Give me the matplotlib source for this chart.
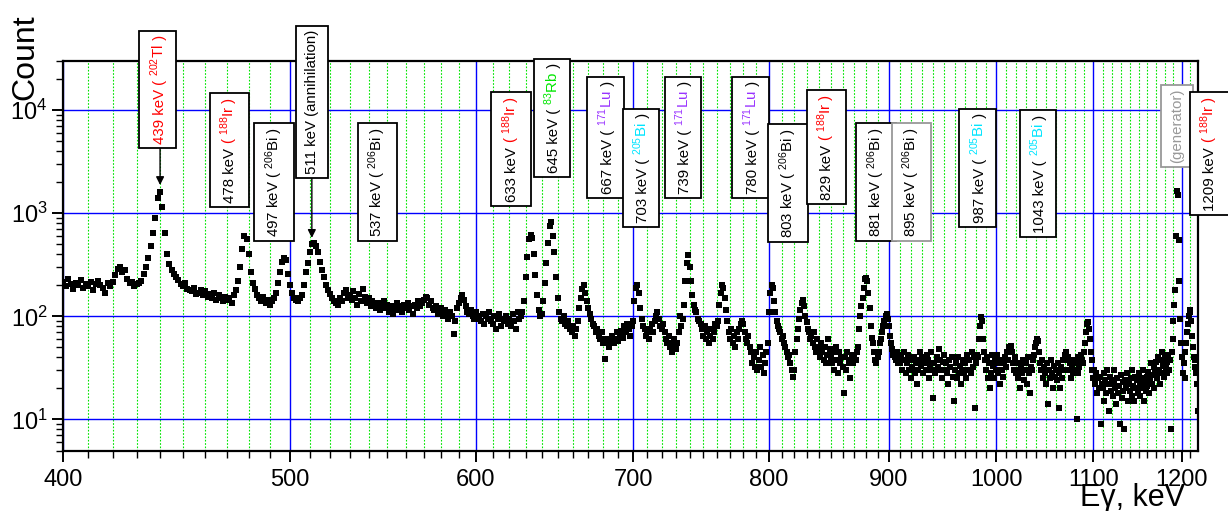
import matplotlib
matplotlib.use('Agg')
import matplotlib.pyplot as plt
import numpy as np
from matplotlib.patches import Rectangle
from matplotlib.ticker import FixedLocator, FuncFormatter, LogLocator, NullFormatter
from matplotlib.transforms import Bbox

plt.rcParams['font.family'] = ['Liberation Sans', 'DejaVu Sans']
plt.rcParams['mathtext.fontset'] = 'custom'
plt.rcParams['mathtext.rm'] = 'Liberation Sans'
plt.rcParams['mathtext.it'] = 'Liberation Sans:italic'
plt.rcParams['mathtext.bf'] = 'Liberation Sans:bold'
plt.rcParams['mathtext.default'] = 'rm'

# spectrum, 1 keV per channel, 400 .. 1219 keV
energy = np.arange(400, 1220)
counts = [
    215, 195, 230, 205, 185, 210, 200, 225, 190, 205,
    195, 215, 180, 205, 220, 200, 190, 170, 210, 195,
    215, 250, 290, 300, 270, 280, 230, 210, 215, 195,
    205, 210, 220, 260, 300, 370, 480, 640, 900, 1400,
    1600, 1150, 650, 400, 320, 280, 260, 240, 225, 205,
    195, 210, 185, 180, 175, 190, 165, 170, 180, 160,
    175, 155, 165, 150, 170, 145, 160, 150, 140, 155,
    145, 150, 135, 160, 180, 220, 300, 450, 600, 560,
    400, 270, 210, 185, 160, 150, 140, 155, 135, 145,
    130, 140, 150, 170, 210, 270, 340, 370, 350, 260,
    200, 170, 150, 145, 140, 150, 160, 200, 270, 330,
    420, 500, 520, 480, 420, 340, 280, 240, 200, 180,
    165, 150, 140, 135, 130, 150, 140, 170, 180, 150,
    160, 145, 175, 150, 130, 165, 140, 185, 155, 135,
    150, 125, 140, 130, 120, 135, 115, 125, 140, 120,
    130, 110, 125, 105, 120, 135, 115, 125, 110, 130,
    120, 135, 115, 125, 105, 130, 120, 140, 125, 135,
    145, 155, 150, 130, 140, 120, 115, 125, 105, 110,
    120, 100, 115, 105, 95, 110, 100, 68, 90, 120,
    135, 150, 160, 145, 125, 110, 105, 115, 100, 95,
    110, 95, 100, 90, 105, 85, 100, 95, 110, 90,
    85, 100, 75, 95, 105, 80, 95, 90, 100, 85,
    95, 80, 105, 90, 75, 110, 95, 100, 110, 140,
    240, 380, 560, 620, 580, 400, 250, 160, 115, 100,
    105, 140, 210, 330, 520, 750, 820, 600, 420, 240,
    150, 110, 95, 90, 100, 85, 80, 90, 75, 70,
    80, 65, 75, 90, 120, 150, 185, 200, 170, 140,
    120, 105, 95, 85, 80, 70, 75, 65, 60, 70,
    55, 39, 60, 55, 50, 58, 65, 55, 60, 70,
    58, 65, 72, 62, 80, 70, 85, 75, 65, 80,
    90, 140, 190, 200, 170, 120, 95, 80, 75, 65,
    70, 60, 75, 85, 70, 90, 100, 110, 95, 80,
    75, 85, 70, 60, 55, 65, 50, 45, 55, 60,
    48, 55, 70, 100, 80, 95, 130, 220, 330, 390,
    300, 220, 160, 130, 115, 110, 95, 90, 85, 75,
    65, 80, 60, 70, 55, 65, 75, 60, 70, 85,
    80, 90, 130, 170, 200, 190, 150, 115, 90, 70,
    60, 75, 55, 65, 50, 70, 60, 75, 85, 90,
    85, 70, 60, 55, 65, 50, 45, 35, 40, 32,
    45, 30, 38, 50, 32, 42, 28, 35, 45, 55,
    110, 170, 200, 190, 140, 110, 90, 80, 75, 70,
    60, 65, 55, 50, 45, 40, 42, 35, 30, 26,
    30, 45, 60, 75, 95, 115, 135, 145, 125, 100,
    88, 75, 70, 60, 65, 55, 70, 50, 45, 60,
    50, 40, 55, 45, 38, 50, 35, 42, 60, 48,
    40, 35, 45, 30, 50, 38, 28, 45, 35, 40,
    32, 18, 40, 30, 45, 35, 25, 38, 42, 35,
    40, 38, 45, 50, 75, 100, 125, 150, 190, 230,
    235, 220, 170, 120, 80, 62, 55, 45, 38, 35,
    40, 45, 55, 60, 70, 80, 90, 100, 105, 95,
    80, 65, 55, 48, 42, 40, 38, 45, 35, 42,
    35, 40, 30, 45, 38, 28, 35, 42, 30, 38,
    25, 32, 40, 28, 35, 22, 30, 38, 45, 33,
    40, 28, 35, 30, 42, 38, 25, 33, 45, 30,
    16, 35, 28, 40, 32, 48, 38, 30, 25, 36,
    42, 30, 35, 28, 22, 38, 32, 40, 26, 15,
    30, 35, 25, 40, 28, 33, 22, 30, 38, 28,
    35, 25, 42, 30, 38, 28, 45, 32, 40, 13,
    35, 42, 40, 60, 80, 98, 90, 60, 45, 38,
    30, 40, 25, 35, 20, 28, 42, 33, 25, 38,
    30, 42, 28, 35, 22, 38, 30, 26, 35, 40,
    32, 45, 38, 50, 48, 52, 45, 35, 30, 40,
    28, 35, 25, 30, 20, 33, 28, 38, 24, 30,
    35, 22, 40, 28, 18, 32, 30, 38, 42, 50,
    55, 60, 58, 45, 35, 30, 38, 25, 32, 28,
    22, 35, 14, 30, 25, 38, 28, 20, 33, 26,
    30, 24, 35, 13, 28, 20, 32, 25, 38, 30,
    42, 45, 38, 40, 30, 35, 25, 32, 28, 38,
    30, 35, 10, 40, 28, 32, 36, 42, 38, 35,
    45, 55, 70, 85, 88, 75, 60, 45, 38, 30,
    25, 30, 22, 28, 18, 25, 20, 26, 9, 22,
    20, 28, 15, 24, 18, 30, 22, 12, 26, 19,
    24, 17, 22, 30, 20, 14, 25, 18, 21, 9,
    27, 16, 23, 19, 8, 24, 20, 28, 15, 22,
    19, 25, 17, 30, 21, 15, 26, 20, 24, 18,
    28, 22, 17, 25, 20, 30, 15, 23, 19, 26,
    21, 29, 18, 24, 35, 22, 27, 32, 20, 28,
    36, 25, 40, 30, 22, 38, 28, 45, 33, 26,
    40, 32, 28, 36, 42, 30, 38, 8, 45, 60,
    90, 130, 180, 600, 1650, 1500, 550, 220, 95, 55,
    40, 28, 35, 25, 45, 55, 70, 85, 100, 115,
    110, 90, 65, 50, 40, 32, 38, 28, 22, 12,
]

x_ticks = [400, 500, 600, 700, 800, 900, 1000, 1100, 1200]

RED, GREEN, LU, BI, GREY = '#ff0000', '#00e600', '#9933ff', '#00e5ff', '#999999'
K = 'black'

# label boxes: box centre (keV), box bottom (counts), text pieces, frame colour
boxes = [
    (438.8, 4285, [("439 keV", RED), (" (", RED), (" $^{202}$Tl", RED), (" )", RED)], K),
    (471.0, 1151, [("478 keV", K), (" ( $^{188}$Ir )", RED)], K),
    (492.0, 540, [("497 keV ( $^{206}$Bi )", K)], K),
    (510.8, 2198, [("511 keV (annihilation)", K)], K),
    (544.7, 540, [("537 keV ( $^{206}$Bi )", K)], K),
    (620.9, 1177, [("633 keV", K), (" ( $^{188}$Ir )", RED)], K),
    (646.6, 2246, [("645 keV (", K), (" $^{83}$Rb", GREEN), (" )", K)], K),
    (681.4, 1406, [("667 keV (", K), (" $^{171}$Lu", LU), (" )", K)], K),
    (705.4, 736, [("703 keV (", K), (" $^{205}$Bi", BI), (" )", K)], K),
    (735.2, 1406, [("739 keV (", K), (" $^{171}$Lu", LU), (" )", K)], K),
    (785.4, 1406, [("780 keV (", K), (" $^{171}$Lu", LU), (" )", K)], K),
    (815.1, 527, [("803 keV ( $^{206}$Bi )", K)], K),
    (846.4, 1231, [("829 keV", K), (" ( $^{188}$Ir )", RED)], K),
    (888.8, 540, [("881 keV ( $^{206}$Bi )", K)], K),
    (920.0, 540, [("895 keV ( $^{206}$Bi )", K)], GREY),
    (981.7, 736, [("987 keV (", K), (" $^{205}$Bi", BI), (" )", K)], K),
    (1041.7, 590, [("1043 keV (", K), (" $^{205}$Bi", BI), (" )", K)], K),
    (1193.9, 2806, [("(generator)", GREY)], GREY),
    (1233.0, 963, [("1209 keV", K), (" ( $^{188}$Ir )", RED)], K),
]

# arrows: from (keV, counts) to (keV, counts)
arrows = [
    (440.0, 4285, 440.0, 1880),
    (510.7, 2198, 510.7, 577),
]

W, H = 1228, 511
fig = plt.figure(figsize=(W / 100, H / 100), dpi=100)
ax = fig.add_axes([63 / W, 1 - 450.5 / H, (1198 - 63) / W, (450.5 - 61) / H])
ax.set_xscale('log')
ax.set_yscale('log')
ax.set_xlim(400, 1219)
ax.set_ylim(5, 3e4)

ax.plot(energy, counts, 's', color='black', ms=4.6, mew=0, zorder=3)

ax.xaxis.set_major_locator(FixedLocator(x_ticks))
ax.xaxis.set_major_formatter(FuncFormatter(lambda v, p: f'{v:.0f}'))
ax.xaxis.set_minor_locator(FixedLocator([e for e in range(410, 1220, 10) if e % 100]))
ax.xaxis.set_minor_formatter(NullFormatter())
ax.yaxis.set_major_locator(LogLocator(base=10, numticks=10))
ax.yaxis.set_minor_locator(LogLocator(base=10, subs=np.arange(2, 10), numticks=20))
ax.yaxis.set_minor_formatter(NullFormatter())
ax.tick_params(which='major', direction='out', length=8, width=1.4, labelsize=17)
ax.tick_params(which='minor', direction='out', length=5, width=1.0)
ax.tick_params(axis='x', which='major', pad=5)
ax.tick_params(axis='y', which='major', pad=3)
for sp in ax.spines.values():
    sp.set_linewidth(1.6)

ax.set_axisbelow(True)
ax.grid(True, which='major', color='#0000ff', lw=1.0)
ax.xaxis.grid(True, which='minor', color='#00e600', ls=(0, (1.5, 1.5)), lw=0.8)

fig.text(25 / W, 1 - 14 / H, 'Count', rotation=90, ha='center', va='top', fontsize=23)
fig.text(1185 / W, 1 - 506 / H, 'Eγ, keV', ha='right', va='baseline', fontsize=22)

for x0, y0, x1, y1 in arrows:
    ax.annotate('', xy=(x1, y1), xytext=(x0, y0), annotation_clip=False, zorder=4,
                arrowprops=dict(arrowstyle='-|>', color='black', lw=1.0,
                                shrinkA=0, shrinkB=0, mutation_scale=12))

renderer = fig.canvas.get_renderer()
pad_x, pad_y = 9, 4
for xc, yb, pieces, frame in boxes:
    parts, offs = [], []
    off = 0.0
    for s, col in pieces:
        t = ax.annotate(s, xy=(xc, yb), xytext=(0, off), textcoords='offset pixels',
                        rotation=90, rotation_mode='anchor', ha='left', va='baseline',
                        color=col, fontsize=10.8, annotation_clip=False, zorder=6)
        parts.append(t)
        offs.append(off)
        off += t.get_window_extent(renderer).height
    u = Bbox.union([t.get_window_extent(renderer) for t in parts])
    px, py = ax.transData.transform((xc, yb))
    dx = px - (u.x0 + u.x1) / 2
    dy = py + pad_y - u.y0
    for t, o in zip(parts, offs):
        t.xyann = (dx, o + dy)
    rx, ry = u.x0 + dx - pad_x, u.y0 + dy - pad_y
    ax.add_patch(Rectangle((rx / W, ry / H), (u.width + 2 * pad_x) / W,
                           (u.height + 2 * pad_y) / H, transform=fig.transFigure,
                           facecolor='white', edgecolor=frame, lw=1.3,
                           clip_on=False, zorder=5))

fig.savefig('out.png', dpi=100)
